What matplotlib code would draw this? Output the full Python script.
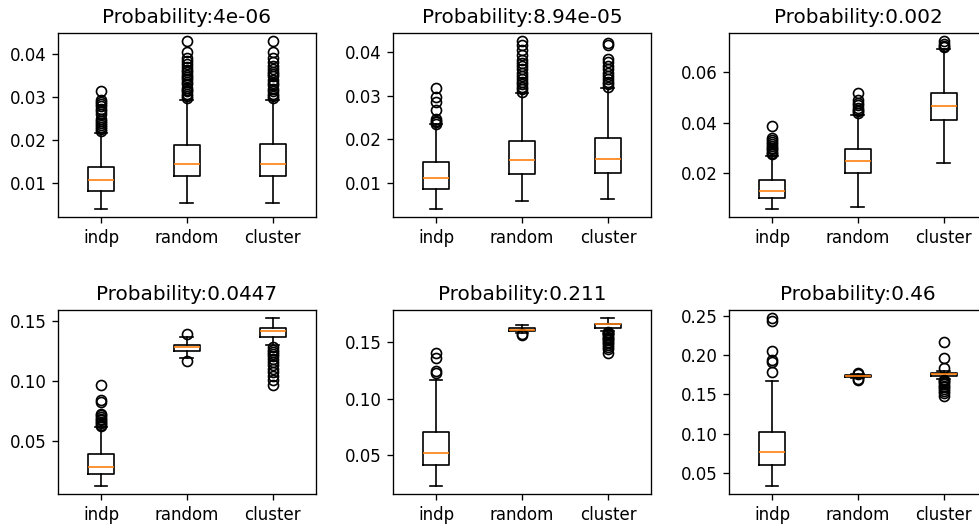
import matplotlib
matplotlib.use("Agg")
import matplotlib.pyplot as plt

# summary statistics per scenario, one entry per strategy (indp, random, cluster)
labels = ["indp", "random", "cluster"]
probs = ["4e-06", "8.94e-05", "0.002", "0.0447", "0.211", "0.46"]

medians = [
    [0.0107, 0.0146, 0.0146],
    [0.0111, 0.0152, 0.0155],
    [0.0131, 0.0248, 0.0464],
    [0.0284, 0.1284, 0.1414],
    [0.0512, 0.1613, 0.1660],
    [0.0764, 0.1730, 0.1760],
]
q1s = [
    [0.0082, 0.0116, 0.0116],
    [0.0086, 0.0120, 0.0123],
    [0.0104, 0.0201, 0.0410],
    [0.0226, 0.1253, 0.1370],
    [0.0405, 0.1598, 0.1625],
    [0.0602, 0.1717, 0.1734],
]
q3s = [
    [0.0139, 0.0188, 0.0192],
    [0.0147, 0.0196, 0.0202],
    [0.0174, 0.0295, 0.0517],
    [0.0389, 0.1301, 0.1445],
    [0.0702, 0.1628, 0.1666],
    [0.1023, 0.1742, 0.1772],
]
whis_lo = [
    [0.0041, 0.0053, 0.0053],
    [0.0040, 0.0058, 0.0062],
    [0.0061, 0.0066, 0.0243],
    [0.0126, 0.1195, 0.1300],
    [0.0224, 0.1583, 0.1604],
    [0.0338, 0.1705, 0.1700],
]
whis_hi = [
    [0.0216, 0.0294, 0.0294],
    [0.0234, 0.0305, 0.0317],
    [0.0270, 0.0431, 0.0691],
    [0.0619, 0.1365, 0.1525],
    [0.1168, 0.1657, 0.1717],
    [0.1670, 0.1755, 0.1800],
]
outliers = [
    [[0.0221, 0.0226, 0.0231, 0.0236, 0.0241, 0.0245, 0.0250, 0.0262, 0.0268,
      0.0274, 0.0279, 0.0284, 0.0289, 0.0293, 0.0315],
     [0.0298, 0.0303, 0.0309, 0.0314, 0.0318, 0.0323, 0.0330, 0.0336, 0.0342,
      0.0348, 0.0353, 0.0358, 0.0364, 0.0371, 0.0378, 0.0385, 0.0392, 0.0405, 0.0431],
     [0.0298, 0.0303, 0.0309, 0.0315, 0.0320, 0.0328, 0.0334, 0.0341, 0.0349,
      0.0355, 0.0360, 0.0366, 0.0374, 0.0383, 0.0391, 0.0405, 0.0431]],
    [[0.0235, 0.0238, 0.0242, 0.0246, 0.0266, 0.0284, 0.0296, 0.0318],
     [0.0309, 0.0314, 0.0320, 0.0326, 0.0331, 0.0337, 0.0345, 0.0352, 0.0360,
      0.0367, 0.0374, 0.0382, 0.0393, 0.0405, 0.0416, 0.0425],
     [0.0320, 0.0326, 0.0332, 0.0338, 0.0345, 0.0352, 0.0360, 0.0368, 0.0376,
      0.0385, 0.0417, 0.0421]],
    [[0.0275, 0.0281, 0.0288, 0.0295, 0.0302, 0.0309, 0.0316, 0.0323, 0.0331,
      0.0340, 0.0386],
     [0.0437, 0.0445, 0.0452, 0.0460, 0.0468, 0.0476, 0.0490, 0.0519],
     [0.0697, 0.0703, 0.0710, 0.0722]],
    [[0.0622, 0.0633, 0.0645, 0.0658, 0.0670, 0.0685, 0.0700, 0.0712, 0.0725,
      0.0825, 0.0840, 0.0965],
     [0.1163, 0.1392],
     [0.0970, 0.1010, 0.1040, 0.1075, 0.1100, 0.1130, 0.1160, 0.1185, 0.1205,
      0.1225, 0.1245, 0.1262, 0.1280]],
    [[0.1230, 0.1242, 0.1360, 0.1405],
     [0.1570, 0.1578],
     [0.1410, 0.1440, 0.1460, 0.1480, 0.1495, 0.1508, 0.1520, 0.1532, 0.1543,
      0.1553, 0.1562, 0.1572, 0.1580, 0.1588, 0.1595]],
    [[0.1778, 0.1915, 0.1930, 0.2052, 0.2425, 0.2468],
     [0.1685, 0.1695, 0.1762, 0.1772],
     [0.1480, 0.1510, 0.1540, 0.1565, 0.1590, 0.1610, 0.1630, 0.1650, 0.1665,
      0.1680, 0.1830, 0.1960, 0.2165]],
]

fig = plt.figure(figsize=(979 / 120, 528 / 120), dpi=120)

# fixed grid; the last column runs slightly past the figure edge
lefts = [0.0592, 0.4014, 0.7446]
bottoms = [0.589, 0.0644]
w, h = 0.2635, 0.349

for i, p in enumerate(probs):
    r, c = divmod(i, 3)
    ax = fig.add_axes([lefts[c], bottoms[r], w, h])
    stats = []
    for j, lab in enumerate(labels):
        stats.append(dict(label=lab, med=medians[i][j], q1=q1s[i][j], q3=q3s[i][j],
                          whislo=whis_lo[i][j], whishi=whis_hi[i][j],
                          fliers=outliers[i][j]))
    ax.bxp(stats, widths=0.3)
    ax.set_title("Probability:" + p)

fig.savefig("out.png", dpi=120)
